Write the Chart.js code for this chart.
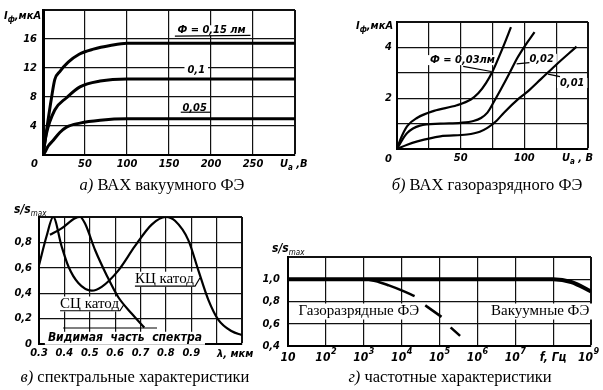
<!DOCTYPE html>
<html>
<head>
<meta charset="utf-8">
<script src="https://cdn.jsdelivr.net/npm/chart.js@4"></script>
<style>
body { margin: 0; background: #fff; width: 603px; height: 390px; position: relative; overflow: hidden; }
canvas { position: absolute; }
.cap { position: absolute; font-family: 'Liberation Serif', 'Times New Roman', serif; font-size: 16.5px; white-space: nowrap; transform: translateX(-50%); line-height: 20px; }
.lbl { position: absolute; font-family: 'Liberation Sans Narrow', 'DejaVu Sans Condensed', sans-serif; font-style: italic; font-weight: bold; font-size: 11px; white-space: nowrap; line-height: 12px; }
.lbl sub { font-size: 8px; vertical-align: -3px; line-height: 0; }
.lbl .n { font-weight: normal; }
</style>
</head>
<body>
<canvas id="cA" width="300" height="172" style="left:0;top:0"></canvas>
<canvas id="cB" width="263" height="168" style="left:340px;top:0"></canvas>
<canvas id="cC" width="262" height="168" style="left:0;top:195px"></canvas>
<canvas id="cD" width="345" height="128" style="left:258px;top:240px"></canvas>

<div class="lbl" style="left:4px;top:10px">I<sub>ф</sub>,мкА</div>
<div class="lbl" style="left:31px;top:158px">0</div>
<div class="lbl" style="left:280px;top:158px">U<sub>а</sub> ,В</div>
<div class="cap" style="left:162px;top:175px"><i>а)</i> ВАХ вакуумного ФЭ</div>

<div class="lbl" style="left:356px;top:20px">I<sub>ф</sub>,мкА</div>
<div class="lbl" style="left:385px;top:153px">0</div>
<div class="lbl" style="left:562px;top:152px">U<sub>а</sub> , В</div>
<div class="cap" style="left:487px;top:175px"><i>б)</i> ВАХ газоразрядного ФЭ</div>

<div class="lbl" style="left:14px;top:203px;font-size:12px">s/s<sub class="n">max</sub></div>
<div class="lbl" style="left:217px;top:348px">λ, мкм</div>
<div class="cap" style="left:135px;top:367px"><i>в)</i> спектральные характеристики</div>

<div class="lbl" style="left:272px;top:242px;font-size:12px">s/s<sub class="n">max</sub></div>
<div class="cap" style="left:450px;top:367px"><i>г)</i> частотные характеристики</div>

<script>
// а) ВАХ вакуумного ФЭ: U (В) / I (мкА) for each light flux
const vac015U = [0, 5, 10, 14, 20, 30, 43, 60, 80, 100, 300];
const vac015I = [0, 4, 7.8, 10.4, 11.5, 12.8, 13.9, 14.6, 15.1, 15.4, 15.4];
const vac01U = [0, 4, 14, 28, 44, 68, 100, 300];
const vac01I = [0, 2.9, 6.2, 7.9, 9.4, 10.2, 10.5, 10.5];
const vac005U = [0, 2, 6, 12, 20, 28, 44, 68, 100, 300];
const vac005I = [0, 0.3, 1.2, 2.0, 3.1, 3.85, 4.4, 4.8, 5, 5];
const aTicksX = [0, 50, 100, 150, 200, 250, 300];
const aLabelsX = ['', '50', '100', '150', '200', '250', ''];
const aTicksY = [0, 4, 8, 12, 16, 20];
const aLabelsY = ['', '4', '8', '12', '16', ''];

// б) ВАХ газоразрядного ФЭ
const gas003U = [0, 2.6, 8, 16, 29, 47, 58, 64, 70, 75, 79, 84, 89.5];
const gas003I = [0, 0.37, 0.9, 1.23, 1.5, 1.72, 1.95, 2.2, 2.6, 3.05, 3.5, 4.1, 4.8];
const gas002U = [0, 4, 8, 18, 34, 50, 60, 66, 71, 76, 81.6, 88, 94.7, 101, 108];
const gas002I = [0, 0.35, 0.63, 0.92, 1.0, 1.03, 1.1, 1.22, 1.43, 1.85, 2.35, 2.95, 3.6, 4.1, 4.6];
const gas001U = [0, 8, 16, 34, 55, 65, 71, 78, 84, 96, 103, 113, 124, 141];
const gas001I = [0, 0.17, 0.3, 0.5, 0.57, 0.68, 0.83, 1.1, 1.43, 2.0, 2.28, 2.75, 3.27, 4.03];
const bTicksX = [0, 25, 50, 75, 100, 125, 150];
const bLabelsX = ['', '', '50', '', '100', '', ''];
const bTicksY = [0, 1, 2, 3, 4, 5];
const bLabelsY = ['', '', '2', '', '4', ''];

// в) спектральные характеристики: λ (мкм) / s/smax
const kcL = [0.3, 0.33, 0.356, 0.389, 0.416, 0.455, 0.508, 0.547, 0.613, 0.678, 0.744, 0.80, 0.836, 0.888, 0.928, 0.967, 1.007, 1.06, 1.1];
const kcS = [0.62, 0.85, 1.0, 0.77, 0.61, 0.48, 0.42, 0.45, 0.58, 0.77, 0.94, 1.0, 0.97, 0.82, 0.58, 0.35, 0.19, 0.1, 0.07];
const scL = [0.343, 0.389, 0.442, 0.462, 0.481, 0.521, 0.567, 0.612, 0.665, 0.715];
const scS = [0.86, 0.91, 0.99, 1.0, 0.95, 0.74, 0.54, 0.37, 0.24, 0.13];
const cTicksX = [0.3, 0.4, 0.5, 0.6, 0.7, 0.8, 0.9, 1.0, 1.1];
const cLabelsX = ['0.3', '0.4', '0.5', '0.6', '0.7', '0.8', '0.9', '', ''];
const cTicksY = [0, 0.2, 0.4, 0.6, 0.8, 1.0];
const cLabelsY = ['0', '0,2', '0,4', '0,6', '0,8', ''];

// г) частотные характеристики: f (Гц) / s/smax
const vacF = [10, 1e8, 3e8, 1e9];
const vacS = [1, 1, 0.975, 0.89];
const gasF = [10, 1e3, 2e3, 4.6e3, 1e4, 2.2e4];
const gasS = [1, 1, 0.985, 0.945, 0.9, 0.848];
const gasDashF = [2.2e4, 4.6e4, 1.23e5, 2e5, 3.5e5];
const gasDashS = [0.848, 0.756, 0.653, 0.565, 0.491];
const dTicksX = [1e1, 1e2, 1e3, 1e4, 1e5, 1e6, 1e7, 1e8, 1e9];
const dExp = ['', '2', '3', '4', '5', '6', '7', '', '9'];
const dTicksY = [0.4, 0.6, 0.8, 1.0, 1.2];
const dLabelsY = ['0,4', '0,6', '0,8', '1,0', ''];

const NARROW = "'Liberation Sans Narrow', 'DejaVu Sans Condensed', sans-serif";
const LABEL_FONT = 'italic bold 11px ' + NARROW;
const SERIF_FONT = '15px "Liberation Serif", "Times New Roman", serif';

Chart.defaults.font.family = NARROW;
Chart.defaults.font.style = 'italic';
Chart.defaults.font.weight = 'bold';
Chart.defaults.font.size = 11;
Chart.defaults.color = '#000';

//Text and leader lines placed in data coordinates:
const notes = {
    id: 'notes',
    beforeDatasetsDraw(chart, args, opts) {
        const { ctx, scales: { x, y } } = chart;
        const P = (a, b) => [x.getPixelForValue(a), y.getPixelForValue(b)];
        (opts.items || []).forEach(n => {
            ctx.save();
            ctx.strokeStyle = '#000';
            ctx.fillStyle = '#000';
            if (n.text) {
                ctx.font = n.font || LABEL_FONT;
                ctx.textBaseline = 'middle';
                const [px, py] = P(n.at[0], n.at[1]);
                const w = ctx.measureText(n.text).width;
                if (n.bg) {
                    ctx.fillStyle = '#fff';
                    ctx.fillRect(px - 3, py - n.bg / 2, w + 6, n.bg);
                    ctx.fillStyle = '#000';
                }
                ctx.fillText(n.text, px, py);
            }
            if (n.path) {
                ctx.lineWidth = n.lw || 1.2;
                ctx.beginPath();
                n.path.forEach((p, i) => {
                    const [px, py] = P(p[0], p[1]);
                    i ? ctx.lineTo(px, py) : ctx.moveTo(px, py);
                });
                ctx.stroke();
            }
            ctx.restore();
        });
    }
};

//Decade labels with superscripts for the log axis:
const decades = {
    id: 'decades',
    afterDraw(chart) {
        if (chart.canvas.id !== 'cD') return;
        const { ctx, chartArea, scales: { x } } = chart;
        const base = chartArea.bottom + 12;
        ctx.save();
        ctx.fillStyle = '#000';
        ctx.textBaseline = 'middle';
        dTicksX.forEach((v, i) => {
            const px = x.getPixelForValue(v);
            ctx.font = 'italic bold 12px ' + NARROW;
            const txt = i === 7 ? 'f, Гц' : '10';
            const w = ctx.measureText(txt).width;
            const sw = dExp[i] ? 6 : 0;
            let left = px - (w + sw) / 2;
            if (i === dTicksX.length - 1) left = Math.min(left, chartArea.right + 8 - w - sw);
            ctx.fillText(txt, left, base);
            if (dExp[i]) {
                ctx.font = 'italic bold 9px ' + NARROW;
                ctx.fillText(dExp[i], left + w + 0.5, base - 6);
            }
        });
        ctx.restore();
    }
};

function line(xs, ys, w, extra) {
    return Object.assign({
        data: xs.map((x, i) => ({ x, y: ys[i] })),
        borderColor: '#000',
        borderWidth: w,
        pointRadius: 0,
        fill: false,
        cubicInterpolationMode: 'monotone'
    }, extra || {});
}

function axis(a, dir) {
    return {
        type: a.type || 'linear',
        min: a.min,
        max: a.max,
        afterBuildTicks: s => { s.ticks = a.ticks.map(v => ({ value: v })); },
        afterFit: s => {
            if (dir === 'x') s.height = a.size; else s.width = a.size;
            s.paddingTop = s.paddingBottom = s.paddingLeft = s.paddingRight = 0;
        },
        ticks: { autoSkip: false, maxRotation: 0, padding: a.tpad, callback: (v, i) => a.labels ? a.labels[i] : '' },
        grid: {
            color: '#111',
            drawTicks: false,
            lineWidth: c => c.index === a.ticks.length - 1 ? 2 : 1.2
        },
        border: { display: true, color: '#000', width: a.bw || 2 }
    };
}

function panel(id, o) {
    return new Chart(document.getElementById(id), {
        type: 'line',
        data: { datasets: o.datasets },
        options: {
            responsive: false,
            animation: false,
            devicePixelRatio: 1,
            layout: { padding: o.pad },
            plugins: { legend: { display: false }, tooltip: { enabled: false }, notes: { items: o.notes } },
            scales: { x: axis(o.x, 'x'), y: axis(o.y, 'y') }
        },
        plugins: [notes, decades]
    });
}

//а)
panel('cA', {
    pad: { top: 10, right: 5, left: 0, bottom: 0 },
    x: { min: 0, max: 300, ticks: aTicksX, labels: aLabelsX, size: 17, tpad: 3 },
    y: { min: 0, max: 20, ticks: aTicksY, labels: aLabelsY, size: 43, tpad: 6, bw: 3 },
    datasets: [
        line(vac015U, vac015I, 3),
        line(vac01U, vac01I, 3),
        line(vac005U, vac005I, 3)
    ],
    notes: [
        { text: 'Ф = 0,15 лм', at: [160, 17.2], bg: 10, path: [[157, 16.4], [247, 16.5]] },
        { text: '0,1', at: [172, 11.7], bg: 11 },
        { text: '0,05', at: [166, 6.5], bg: 10, path: [[164, 5.9], [200, 5.9]] }
    ]
});

//б)
panel('cB', {
    pad: { top: 22, right: 15, left: 0, bottom: 0 },
    x: { min: 0, max: 150, ticks: bTicksX, labels: bLabelsX, size: 19, tpad: 3 },
    y: { min: 0, max: 5, ticks: bTicksY, labels: bLabelsY, size: 57, tpad: 5 },
    datasets: [
        line(gas003U, gas003I, 2.2),
        line(gas002U, gas002I, 2.2),
        line(gas001U, gas001I, 2.2)
    ],
    notes: [
        { text: 'Ф = 0,03лм', at: [26, 3.5], bg: 10, path: [[52, 3.25], [74, 3.05]] },
        { text: '0,02', at: [104, 3.55], bg: 10, path: [[94, 3.35], [104, 3.4]] },
        { text: '0,01', at: [128, 2.6], bg: 10, path: [[118.6, 2.95], [128, 2.85]] }
    ]
});

//в)
panel('cC', {
    pad: { top: 22, right: 20, left: 0, bottom: 0 },
    x: { min: 0.3, max: 1.1, ticks: cTicksX, labels: cLabelsX, size: 19, tpad: 3 },
    y: { min: 0, max: 1, ticks: cTicksY, labels: cLabelsY, size: 39, tpad: 7 },
    datasets: [
        line(kcL, kcS, 2.2),
        line(scL, scS, 2.2)
    ],
    notes: [
        { text: 'КЦ катод', at: [0.678, 0.51], font: SERIF_FONT, bg: 15, path: [[0.678, 0.455], [0.915, 0.455], [0.934, 0.52]] },
        { text: 'СЦ катод', at: [0.383, 0.315], font: SERIF_FONT, bg: 15, path: [[0.383, 0.262], [0.619, 0.262], [0.636, 0.315]] },
        { text: 'Видимая  часть  спектра', at: [0.335, 0.045], font: 'italic bold 12px ' + NARROW, bg: 13, path: [[0.395, 0.126], [0.765, 0.126]] }
    ]
});

//г)
panel('cD', {
    pad: { top: 17, right: 12, left: 0, bottom: 0 },
    x: { type: 'logarithmic', min: 10, max: 1e9, ticks: dTicksX, size: 22, tpad: 3 },
    y: { min: 0.4, max: 1.2, ticks: dTicksY, labels: dLabelsY, size: 30, tpad: 8 },
    datasets: [
        line(vacF, vacS, 4),
        line(gasF, gasS, 2.5),
        line(gasDashF, gasDashS, 2.5, { cubicInterpolationMode: 'default', tension: 0, borderDash: [20, 14], borderDashOffset: 20 })
    ],
    notes: [
        { text: 'Газоразрядные ФЭ', at: [19, 0.71], font: SERIF_FONT, bg: 16 },
        { text: 'Вакуумные ФЭ', at: [2.3e6, 0.71], font: SERIF_FONT, bg: 16 }
    ]
});
</script>
</body>
</html>
